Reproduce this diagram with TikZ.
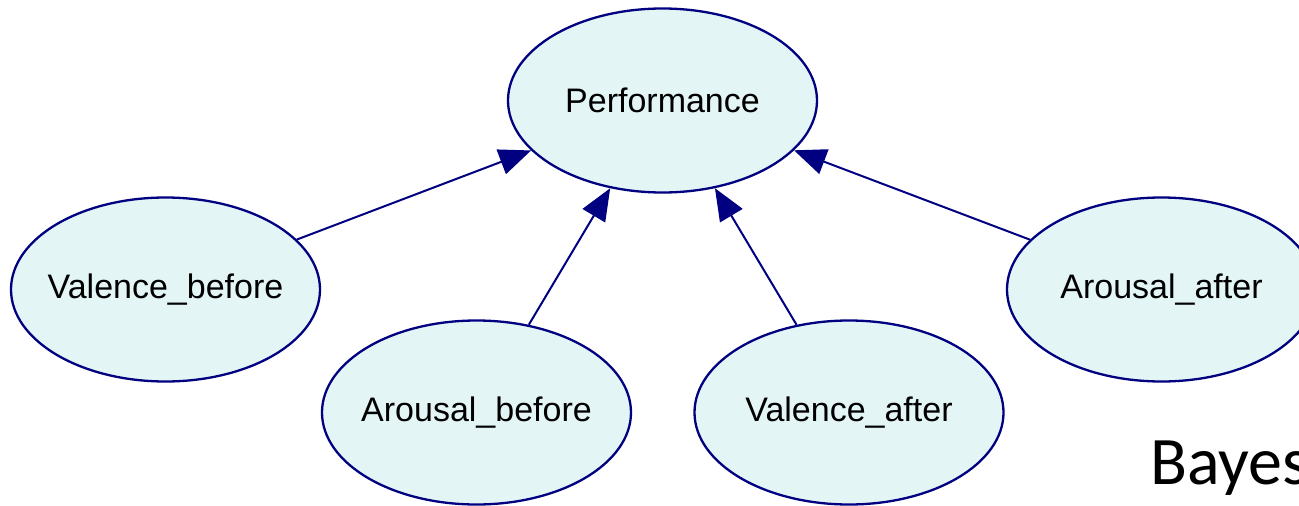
\documentclass[tikz,border=0pt]{standalone}
\usepackage{fontspec}
\setmainfont{Liberation Sans}
\newfontfamily\bayesfont{Carlito}
\usetikzlibrary{shapes.geometric,arrows.meta}
\definecolor{nodefill}{RGB}{227,245,245}
\definecolor{navyline}{RGB}{0,0,128}
\tikzset{
  bnode/.style={ellipse, draw=navyline, fill=nodefill, line width=2.3pt,
    minimum width=309pt, minimum height=184pt, inner xsep=-40pt, inner ysep=0pt,
    font=\fontsize{34}{38}\selectfont, text=black},
  edge/.style={draw=navyline, line width=2pt,
    -{Triangle[length=32pt,width=26pt]}, shorten >=0pt}
}
\begin{document}
\begin{tikzpicture}[x=1pt,y=-1pt]
\useasboundingbox (0,0) rectangle (1299,506);
\clip (0,0) rectangle (1299,506);
\fill[white] (0,0) rectangle (1299,506);
\node[bnode] (perf) at (662.5,100.5) {Performance};
\node[bnode] (vb) at (165.5,289.5) {Valence\_before};
\node[bnode] (ab) at (476.5,412.5) {Arousal\_before};
\node[bnode] (va) at (849,412.5) {Valence\_after};
\node[bnode] (aa) at (1161.5,289.5) {Arousal\_after};
\draw[edge] (vb) -- (perf);
\draw[edge] (ab) -- (perf);
\draw[edge] (va) -- (perf);
\draw[edge] (aa) -- (perf);
\node[anchor=base west, inner sep=0pt, font=\bayesfont\fontsize{68}{80}\selectfont, text=black] (bayes) at (1150,484) {Bayes};
\end{tikzpicture}
\end{document}
